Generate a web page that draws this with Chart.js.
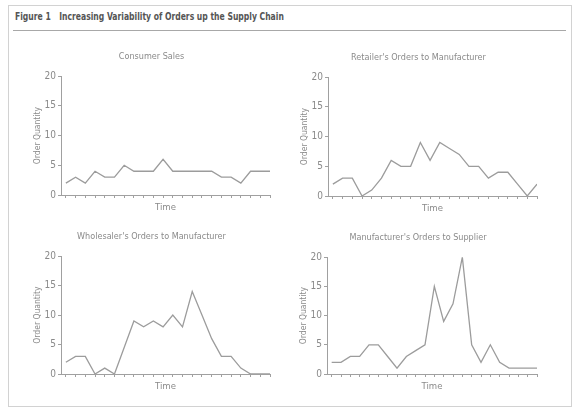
<!DOCTYPE html>
<html>
<head>
<meta charset="utf-8">
<script src="https://cdn.jsdelivr.net/npm/chart.js@4.4.1/dist/chart.umd.min.js"></script>
<style>
  html, body { margin: 0; padding: 0; background: #fff; }
  body { width: 579px; height: 413px; position: relative; overflow: hidden;
         font-family: "Liberation Sans Narrow", "DejaVu Sans Condensed", sans-serif; }
  #frame { position: absolute; left: 8px; top: 5px; width: 562px; height: 400px; border: 1px solid #d2d2d2; }
  #fig { position: absolute; left: 15px; top: 11px; font-weight: bold; font-size: 10px; color: #555;
         white-space: nowrap; transform: scaleX(0.85); transform-origin: left top; }
  #fig span { margin-right: 10px; }
  #rule { position: absolute; left: 13px; top: 30px; width: 553px; border-top: 1px solid #a8a8a8; }
  canvas { position: absolute; }
</style>
</head>
<body>
<div id="frame"></div>
<div id="fig"><span>Figure 1</span>Increasing Variability of Orders up the Supply Chain</div>
<div id="rule"></div>
<canvas id="c1"></canvas>
<canvas id="c2"></canvas>
<canvas id="c3"></canvas>
<canvas id="c4"></canvas>
<script>
// order quantities per time period
const consumerSales = [2, 3, 2, 4, 3, 3, 5, 4, 4, 4, 6, 4, 4, 4, 4, 4, 3, 3, 2, 4, 4, 4]
const retailerOrders = [2, 3, 3, 0, 1, 3, 6, 5, 5, 9, 6, 9, 8, 7, 5, 5, 3, 4, 4, 2, 0, 2]
const wholesalerOrders = [2, 3, 3, 0, 1, 0, 4.5, 9, 8, 9, 8, 10, 8, 14, 10, 6, 3, 3, 1, 0, 0, 0]
const manufacturerOrders = [2, 2, 3, 3, 5, 5, 3, 1, 3, 4, 5, 15, 9, 12, 20, 5, 2, 5, 2, 1, 1, 1, 1]
const yTicks = [0, 5, 10, 15, 20]

const FONT = "'Liberation Sans Narrow', 'DejaVu Sans Condensed', sans-serif"
const TEXT = "#8a8a8a"
const AXIS = "#a0a0a0"

// chart area placement for each panel (left/top of plot, plot size, extra right padding)
const panels = [
  { id: "c1", title: "Consumer Sales", values: consumerSales, left: 61, top: 76, w: 209, h: 119, padRight: 19 },
  { id: "c2", title: "Retailer's Orders to Manufacturer", values: retailerOrders, left: 328, top: 77, w: 209, h: 119, padRight: 13 },
  { id: "c3", title: "Wholesaler's Orders to Manufacturer", values: wholesalerOrders, left: 61, top: 256, w: 209, h: 118, padRight: 18 },
  { id: "c4", title: "Manufacturer's Orders to Supplier", values: manufacturerOrders, left: 327, top: 257, w: 210, h: 117, padRight: 12 },
]

const Y_BOX = 28
const TOP_BOX = 29
const X_BOX = 18

function makePanel(p) {
  const canvas = document.getElementById(p.id)
  const width = Y_BOX + p.w + p.padRight
  const height = TOP_BOX + p.h + X_BOX
  canvas.width = width
  canvas.height = height
  canvas.style.left = (p.left - Y_BOX) + "px"
  canvas.style.top = (p.top - TOP_BOX) + "px"

  const points = p.values.map((v, i) => ({ x: i, y: v }))

  new Chart(canvas, {
    type: "line",
    data: {
      datasets: [
        {
          data: points,
          borderColor: "#9c9c9c",
          borderWidth: 1.3,
          pointRadius: 0,
          tension: 0,
          fill: false,
        },
      ],
    },
    options: {
      responsive: false,
      animation: false,
      layout: { padding: { left: 0, right: p.padRight, top: 0, bottom: 0 } },
      plugins: {
        legend: { display: false },
        tooltip: { enabled: false },
        title: {
          display: true,
          text: p.title,
          color: TEXT,
          font: { family: FONT, size: 9, weight: "normal", lineHeight: 1.35 },
          padding: { top: 4, bottom: 13 },
        },
      },
      scales: {
        x: {
          type: "linear",
          min: -0.5,
          max: p.values.length - 1,
          afterBuildTicks: (s) => {
            s.ticks = p.values.map((v, i) => ({ value: i }))
          },
          afterFit: (s) => { s.height = X_BOX },
          ticks: { display: false },
          grid: { display: true, drawOnChartArea: false, tickLength: 3, color: AXIS },
          border: { color: AXIS, width: 1 },
          title: {
            display: true,
            text: "Time",
            color: TEXT,
            font: { family: FONT, size: 9.5 },
            padding: { top: 0, bottom: 0 },
          },
        },
        y: {
          min: 0,
          max: 20,
          afterBuildTicks: (s) => {
            s.ticks = yTicks.map((v) => ({ value: v }))
          },
          afterFit: (s) => { s.width = Y_BOX },
          ticks: { color: TEXT, padding: 2, font: { family: FONT, size: 10 } },
          grid: { display: true, drawOnChartArea: false, tickLength: 3, color: AXIS },
          border: { color: AXIS, width: 1 },
          title: {
            display: true,
            text: "Order Quantity",
            color: TEXT,
            font: { family: FONT, size: 8.5 },
            padding: { top: 0, bottom: 0 },
          },
        },
      },
    },
  })
}

panels.forEach(makePanel)
</script>
</body>
</html>
